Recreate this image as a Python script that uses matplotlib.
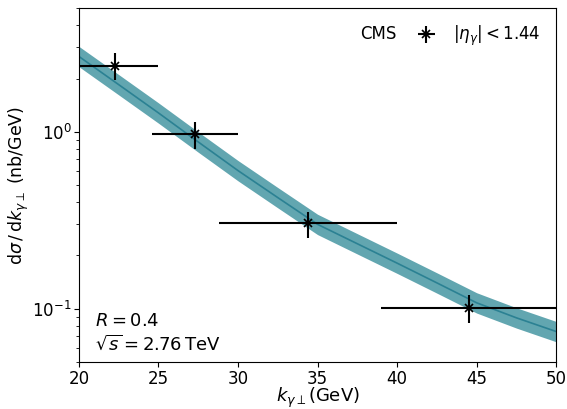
import numpy as np
import matplotlib
matplotlib.use('Agg')
import matplotlib.pyplot as plt

# CMS data points
kx = [22.3, 27.3, 34.4, 44.5]
kx_lo = [2.3, 2.7, 5.6, 5.5]
kx_hi = [2.7, 2.7, 5.6, 6.0]
sig = [2.35, 0.975, 0.304, 0.101]
sig_lo = [0.39, 0.175, 0.054, 0.018]
sig_hi = [0.43, 0.165, 0.047, 0.019]

# theory band (central value and relative band edges)
tx = [20, 22.5, 25, 27.5, 30, 32.5, 35, 37.5, 40, 42.5, 45, 47.5, 50]
tmid = [2.67, 1.85, 1.28, 0.877, 0.604, 0.425, 0.300, 0.233, 0.181, 0.140, 0.108, 0.0888, 0.0743]
band_lo = 0.875
band_hi = 1.14

plt.rcParams['font.size'] = 12
plt.rcParams['mathtext.fontset'] = 'dejavusans'

fig = plt.figure(figsize=(5.67, 4.09), dpi=100)
ax = fig.add_axes([0.139, 0.115, 0.842, 0.865])

tmid_a = np.array(tmid)
ax.fill_between(tx, tmid_a * band_lo, tmid_a * band_hi, color='#62a6b0', lw=0)
ax.plot(tx, tmid, color='#2b8193', lw=1.2)

ax.errorbar(kx, sig, xerr=[kx_lo, kx_hi], yerr=[sig_lo, sig_hi],
            fmt='x', color='k', ms=6, mew=1.2, elinewidth=1.5,
            label=r'$|\eta_\gamma|<1.44$')

ax.set_yscale('log')
ax.set_xlim(20, 50)
ax.set_ylim(0.05, 5)
ax.tick_params(axis='x', pad=2)
ax.tick_params(axis='y', which='major', pad=1.5)
ax.set_xlabel(r'$k_{\gamma\perp}$(GeV)', labelpad=-1.2, fontsize=13)
ax.set_ylabel(r'$\mathrm{d}\sigma\,/\,\mathrm{d}k_{\gamma\perp}$ (nb/GeV)', labelpad=1,
              fontsize=12.5)

ax.legend(loc='upper right', frameon=False, handletextpad=0.6,
          borderaxespad=0.55, fontsize=12)
ax.text(0.59, 0.928, 'CMS', transform=ax.transAxes, fontsize=12, va='center')

ax.text(0.034, 0.115, r'$R = 0.4$', transform=ax.transAxes, fontsize=13, va='center')
ax.text(0.034, 0.05, r'$\sqrt{s} = 2.76\,\mathrm{TeV}$', transform=ax.transAxes,
        fontsize=13, va='center')

fig.savefig('out.png', dpi=100)
